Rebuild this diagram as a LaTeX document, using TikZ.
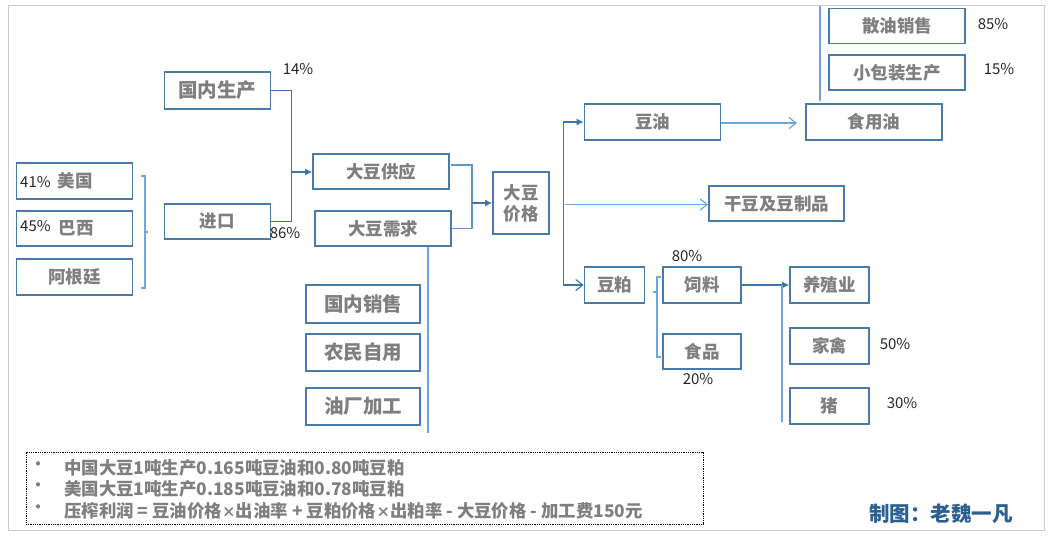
\documentclass[tikz,border=0pt]{standalone}
\usepackage{fontspec}
\setmainfont{Noto Sans CJK SC}
\usetikzlibrary{arrows.meta}
\definecolor{bxline}{HTML}{4A7BA8}
\definecolor{dkline}{HTML}{3F74A6}
\definecolor{ltline}{HTML}{6FA5D8}
\definecolor{txtgray}{HTML}{7F7F7F}
\definecolor{credit}{HTML}{2A5F8F}
\tikzset{
  bx/.style={draw=bxline,line width=1.6pt,fill=white,inner sep=0pt,text=txtgray,align=center,
    font=\bfseries\fontsize{17.5}{21}\selectfont},
  bxbig/.style={bx,font=\bfseries\fontsize{19.5}{23}\selectfont},
  pct/.style={inner sep=0pt,text=black!85,font=\fontsize{15}{18}\selectfont},
  darkline/.style={draw=dkline,line width=1.2pt},
  lightline/.style={draw=ltline,line width=1.9pt},
  darkarrow/.style={darkline,-{Latex[length=7pt,width=7pt]}},
  lightarrow/.style={lightline,-{Straight Barb[length=7pt,width=11pt,line width=1.2pt]}},
  darkopen/.style={darkline,-{Straight Barb[length=7pt,width=11pt,line width=1.2pt]}},
  notes/.style={inner sep=0pt,anchor=west,text=txtgray,font=\bfseries\fontsize{17.4}{20}\selectfont},
  bullet/.style={inner sep=0pt,text=txtgray,font=\fontsize{20}{22}\selectfont},
}
\begin{document}
\begin{tikzpicture}[x=1pt,y=-1pt]
\useasboundingbox (0,0) rectangle (1052,539);
\node[draw=black!20,line width=1pt,minimum width=1036pt,minimum height=525pt,inner sep=0pt] (frame) at (526,267.5) {};

% left column
\node[bx,minimum width=116pt,minimum height=36pt] (us) at (74.5,181) {\makebox[116pt][l]{\hspace{41pt}美国}};
\node[bx,minimum width=116pt,minimum height=35pt] (br) at (74.5,228.5) {\makebox[116pt][l]{\hspace{42pt}巴西}};
\node[bx,minimum width=116pt,minimum height=36pt] (ar) at (74.5,277) {阿根廷};
\node[pct,anchor=west] (p41) at (20,182) {41\%};
\node[pct,anchor=west] (p45) at (20,226) {45\%};
\coordinate (brt) at (141,176);
\coordinate (brtc) at (145,176);
\coordinate (brb) at (141,288);
\coordinate (brbc) at (145,288);
\coordinate (brm) at (145,232);
\coordinate (brmt) at (148,232);
\draw[lightline,line width=1.2pt] (brt) -- (brtc) -- (brbc) -- (brb);
\draw[lightline,line width=1.2pt] (brm) -- (brmt);

% supply side
\node[bxbig,minimum width=106pt,minimum height=37pt] (dom) at (217.3,90.5) {国内生产};
\node[bx,minimum width=106pt,minimum height=35pt] (imp) at (217.3,221.5) {进口};
\node[bx,minimum width=136pt,minimum height=35pt] (sup) at (381,171.5) {大豆供应};
\node[bx,minimum width=136pt,minimum height=35pt] (dem) at (383,228.5) {大豆需求};
\node[bx,minimum width=56pt,minimum height=62pt,font=\bfseries\fontsize{17.5}{21}\selectfont] (price) at (521,203) {大豆\\价格};
\node[pct] (p14) at (298,69) {14\%};
\node[pct] (p86) at (285,233) {86\%};
\coordinate (j1) at (291.5,172);
\draw[darkline] (dom.east) -- (j1 |- dom.east) -- (j1 |- imp.east) -- (imp.east);
\draw[darkarrow] (j1) -- (sup.west |- j1);
\coordinate (j2) at (472,203);
\draw[darkline,draw=ltline!70!dkline] (451,165) -- (j2 |- 0,165) -- (j2 |- dem.east) -- (dem.east);
\draw[darkarrow,line width=1.6pt] (j2) -- (price.west);

% demand breakdown
\node[bxbig,minimum width=114pt,minimum height=38pt] (d1) at (363,304) {国内销售};
\node[bxbig,minimum width=114pt,minimum height=37pt] (d2) at (363,352.5) {农民自用};
\node[bxbig,minimum width=114pt,minimum height=37pt] (d3) at (363,406.5) {油厂加工};
\coordinate (dl) at (427.6,433);
\draw[lightline] (dl |- dem.south) -- (dl);

% products
\coordinate (tr) at (563.5,204);
\node[bx,minimum width=136pt,minimum height=36pt] (oil) at (652.5,122) {豆油};
\node[bx,minimum width=135pt,minimum height=35pt] (dry) at (776.5,203.5) {干豆及豆制品};
\node[bx,minimum width=60pt,minimum height=36pt] (meal) at (614.5,285) {豆粕};
\draw[darkarrow] (tr) -- (tr |- oil.west) -- (oil.west);
\draw[darkopen] (tr) -- (tr |- meal.west) -- (meal.west);
\coordinate (trl) at (565,204.5);
\draw[lightarrow,line width=1.4pt] (trl) -- (dry.west |- trl);

% edible oil
\node[bx,minimum width=136pt,minimum height=36pt] (edible) at (874,122) {食用油};
\node[bx,minimum width=136pt,minimum height=35pt] (bulk) at (897,26) {散油销售};
\node[bx,minimum width=136pt,minimum height=35pt] (pack) at (897,72.5) {小包装生产};
\node[pct] (p85) at (993,24) {85\%};
\node[pct] (p15) at (999,69) {15\%};
\coordinate (oe) at (797,123);
\draw[lightarrow] (oil.east |- oe) -- (oe);
\coordinate (vt) at (820,6);
\coordinate (vb) at (820,101);
\draw[lightline] (vt) -- (vb);

% meal
\node[bx,minimum width=78pt,minimum height=36pt] (feed) at (702,285) {饲料};
\node[bx,minimum width=78pt,minimum height=35pt] (food) at (702,351.5) {食品};
\node[pct] (p80) at (687,256) {80\%};
\node[pct] (p20) at (698,379) {20\%};
\coordinate (mbt) at (661,277);
\coordinate (mbtc) at (657,277);
\coordinate (mbb) at (661,357);
\coordinate (mbbc) at (657,357);
\coordinate (mbm) at (657,292);
\coordinate (mbmt) at (653,292);
\draw[lightline,line width=1.2pt] (mbt) -- (mbtc) -- (mbbc) -- (mbb);
\draw[lightline,line width=1.2pt] (mbm) -- (mbmt);

\node[bx,minimum width=79pt,minimum height=36pt] (farm) at (829.5,285) {养殖业};
\node[bx,minimum width=79pt,minimum height=36pt] (poul) at (829.5,346) {家禽};
\node[bx,minimum width=79pt,minimum height=36pt] (pig) at (829.5,406) {猪};
\node[pct] (p50) at (895,344) {50\%};
\node[pct] (p30) at (902,403) {30\%};
\draw[darkarrow] (feed.east) -- (farm.west);
\coordinate (fv) at (782,285);
\coordinate (fb) at (782,422);
\draw[lightline] (fv) -- (fb);

% notes
\node[draw=black,densely dotted,line width=0.8pt,minimum width=677pt,minimum height=72pt,inner sep=0pt] (nb) at (364.5,488) {};
\node[bullet] (b1) at (38.5,467) {•};
\node[bullet] (b2) at (38.5,488) {•};
\node[bullet] (b3) at (38.5,510) {•};
\node[notes] (n1) at (64,468) {中国大豆1吨生产0.165吨豆油和0.80吨豆粕};
\node[notes] (n2) at (64,489) {美国大豆1吨生产0.185吨豆油和0.78吨豆粕};
\node[notes] (n3) at (64,510.5) {压榨利润 = 豆油价格{\fontsize{14}{16}\selectfont×}出油率 + 豆粕价格{\fontsize{14}{16}\selectfont×}出粕率 - 大豆价格 - 加工费150元};
\node[inner sep=0pt,text=credit,font=\bfseries\fontsize{20.5}{24}\selectfont] (cr) at (941,514) {制图：老魏一凡};
\end{tikzpicture}
\end{document}
